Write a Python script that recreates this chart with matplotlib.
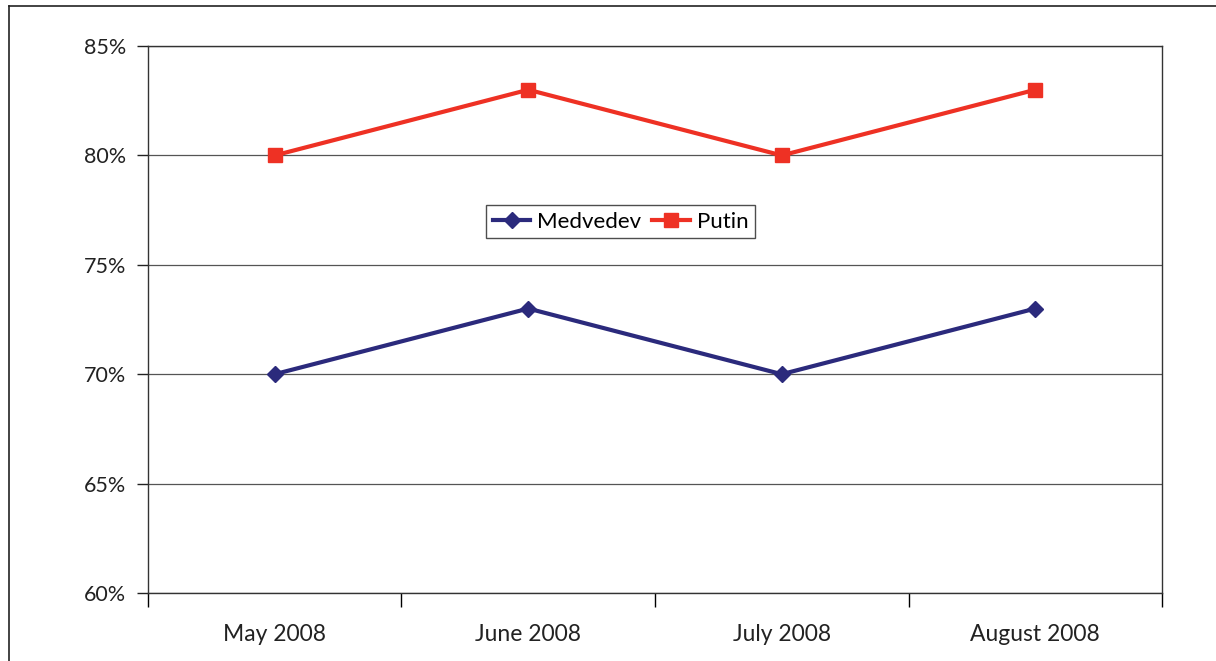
import matplotlib.pyplot as plt
from matplotlib.ticker import FuncFormatter
from matplotlib.lines import Line2D

months = ['May 2008', 'June 2008', 'July 2008', 'August 2008']
medvedev = [70, 73, 70, 73]
putin = [80, 83, 80, 83]
y_ticks = [60, 65, 70, 75, 80, 85]

plt.rcParams['font.family'] = ['Lato', 'DejaVu Sans']

fig = plt.figure(figsize=(12.16, 6.61), dpi=100)
ax = fig.add_axes([0.1217, 0.1029, 0.8339, 0.8275])

x = [i + 0.5 for i in range(len(months))]
ax.plot(x, medvedev, color='#2b2a7c', lw=3, marker='D', ms=8.5, label='Medvedev', zorder=3)
ax.plot(x, putin, color='#ee3124', lw=3, marker='s', ms=10, label='Putin', zorder=3)

ax.set_xlim(0, len(months))
ax.set_ylim(60, 85)
ax.set_yticks(y_ticks)
ax.yaxis.set_major_formatter(FuncFormatter(lambda v, p: '%d%%' % v))
ax.set_xticks(range(len(months) + 1))
ax.set_xticklabels([])
ax.set_xticks(x, minor=True)
ax.set_xticklabels(months, minor=True)
ax.tick_params(axis='x', which='minor', length=0, pad=22, labelsize=16.5, colors='#222222')
ax.tick_params(axis='x', which='major', length=10, width=1, direction='out')
ax.tick_params(axis='y', length=8, width=1, direction='out', labelsize=15.5, pad=8, colors='#222222')
ax.grid(axis='y', color='#555555', lw=0.9)
ax.set_axisbelow(True)
for s in ax.spines.values():
    s.set_linewidth(1)
    s.set_color('#333333')

leg = ax.legend(loc='center', bbox_to_anchor=(0.466, 0.679), ncol=2, fontsize=16,
                frameon=True, fancybox=False, handlelength=1.7, handletextpad=0.3,
                columnspacing=0.5, borderpad=0.3, borderaxespad=0)
leg.get_frame().set_edgecolor('#222222')
leg.get_frame().set_linewidth(1)

# outer frame of the figure box
fig.add_artist(Line2D([9 / 1216, 9 / 1216], [0, 1 - 6 / 661], transform=fig.transFigure, color='#222222', lw=1.2))
fig.add_artist(Line2D([9 / 1216, 1], [1 - 6 / 661, 1 - 6 / 661], transform=fig.transFigure, color='#222222', lw=1.2))

fig.savefig('out.png', dpi=100)
